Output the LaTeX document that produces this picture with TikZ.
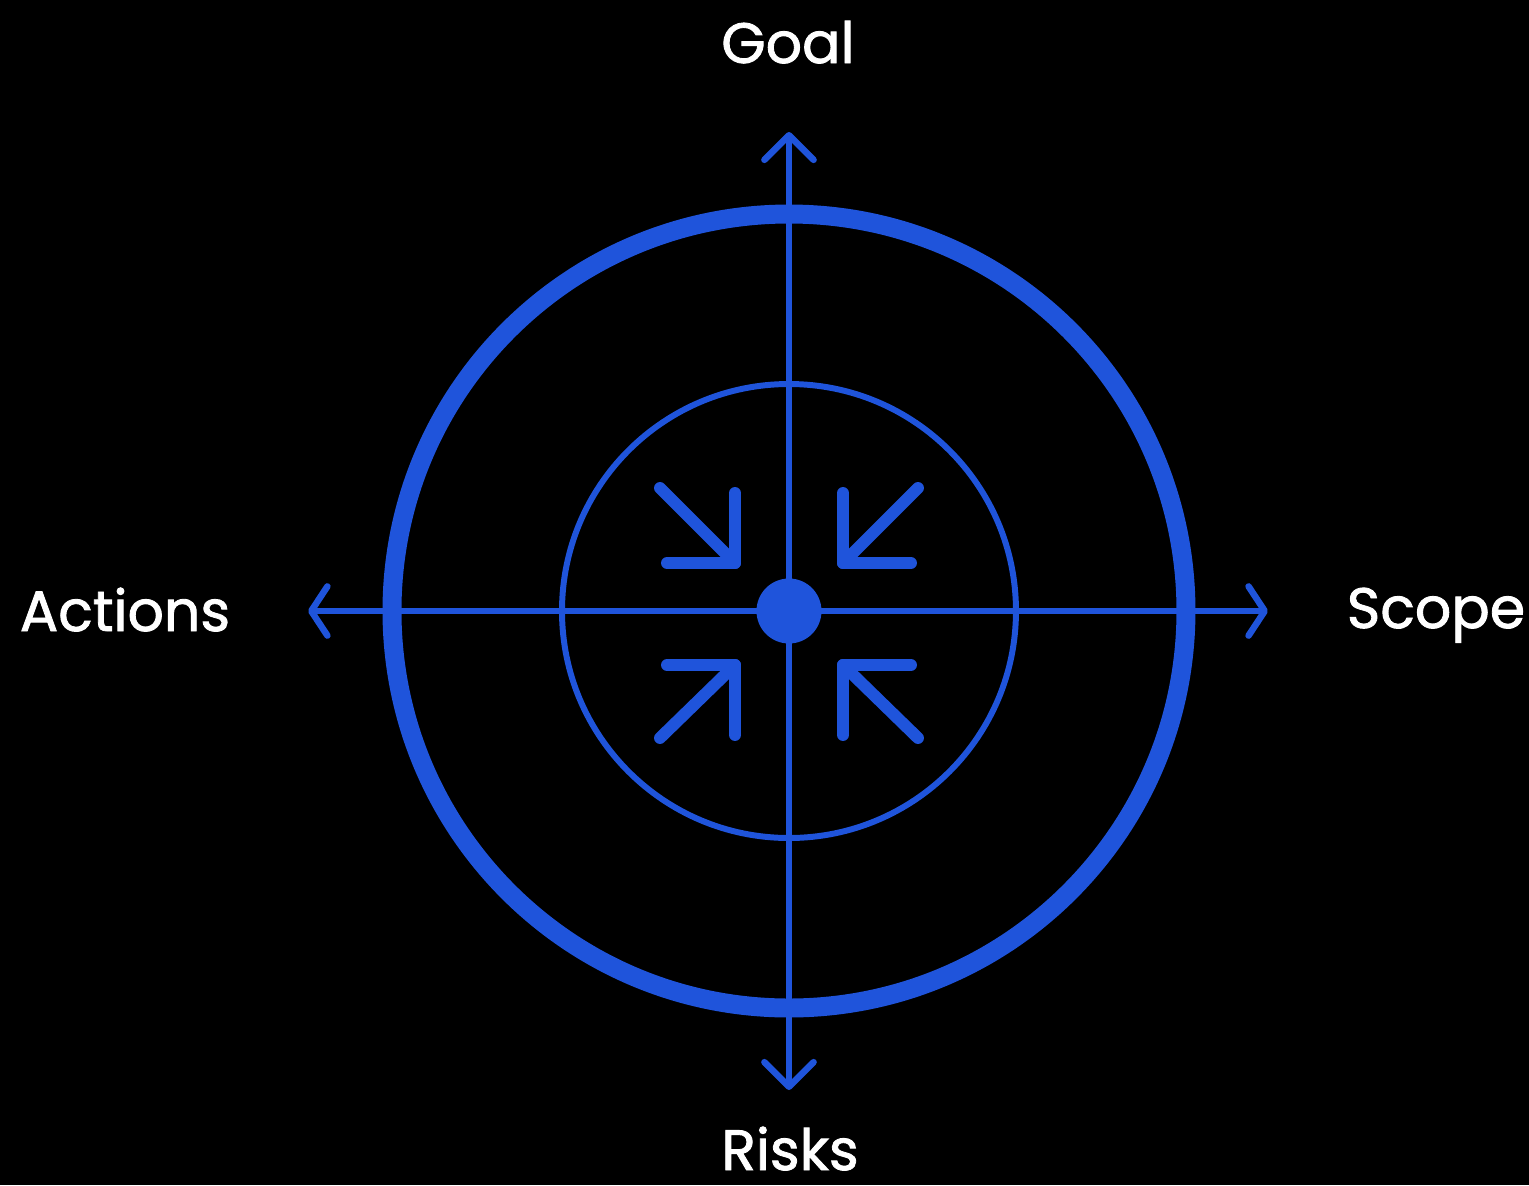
\documentclass[tikz,border=0pt]{standalone}
\usepackage{fontspec}
\setmainfont{Poppins}
\newfontfamily\labelfont{Poppins}[FakeBold=1.5]
\usetikzlibrary{arrows.meta}
\definecolor{ringblue}{HTML}{1F54DB}
\tikzset{
  vaxis/.style={ringblue, line width=1.85pt,
    {Straight Barb[length=7pt, width=14pt, round]}-{Straight Barb[length=7pt, width=14pt, round]}},
  haxis/.style={ringblue, line width=1.85pt,
    {Straight Barb[length=4.6pt, width=14pt, round]}-{Straight Barb[length=4.6pt, width=14pt, round]}},
  outerring/.style={ringblue, line width=5.4pt},
  innerring/.style={ringblue, line width=1.7pt},
  inarrow/.style={ringblue, line width=3.4pt, line cap=round, line join=round},
  axislabel/.style={text=white, font=\labelfont\fontsize{16.2}{18}\selectfont, anchor=base, inner sep=0pt},
}

\begin{document}
\begin{tikzpicture}

% background and page size
\fill[black] (-7.89,6.11) rectangle (7.40,-5.74);
\useasboundingbox (-7.89,6.11) rectangle (7.40,-5.74);

\coordinate (c) at (0,0);
\coordinate (top) at (0,4.79);
\coordinate (bottom) at (0,-4.79);
\coordinate (left) at (-4.81,0);
\coordinate (right) at (4.79,0);

% rings
\draw[outerring] (c) circle (3.97);
\draw[innerring] (c) circle (2.27);

% axes
\draw[vaxis] (bottom) -- (top);
\draw[haxis] (left) -- (right);

% centre dot
\fill[ringblue] (c) circle (0.325);

% arrows pointing inward
\draw[inarrow] (-1.29,1.23) -- (-0.54,0.48);
\draw[inarrow] (-0.54,1.18) -- (-0.54,0.48) -- (-1.22,0.48);
\draw[inarrow] (1.29,1.23) -- (0.54,0.48);
\draw[inarrow] (0.54,1.18) -- (0.54,0.48) -- (1.22,0.48);
\draw[inarrow] (-1.29,-1.27) -- (-0.54,-0.54);
\draw[inarrow] (-1.22,-0.54) -- (-0.54,-0.54) -- (-0.54,-1.24);
\draw[inarrow] (1.29,-1.27) -- (0.54,-0.54);
\draw[inarrow] (1.22,-0.54) -- (0.54,-0.54) -- (0.54,-1.24);

% labels
\node[axislabel] (goal) at (-0.01,5.48) {Goal};
\node[axislabel] (actions) at (-6.64,-0.20) {Actions};
\node[axislabel] (scope) at (6.47,-0.17) {Scope};
\node[axislabel] (risks) at (0.01,-5.59) {Risks};

\end{tikzpicture}
\end{document}
